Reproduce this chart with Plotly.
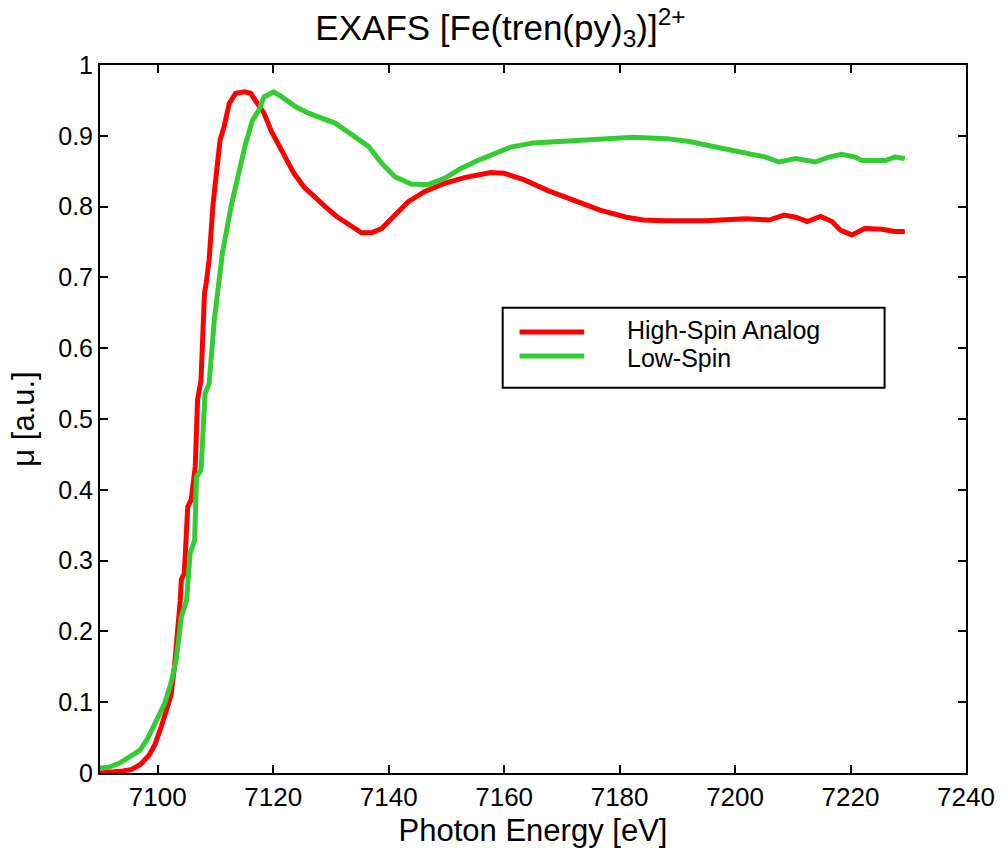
import plotly.graph_objects as go

hs_energy = [7090.0, 7092.0, 7094.0, 7095.5, 7097.0, 7098.5, 7099.5, 7100.6, 7101.5, 7102.3,
             7102.9, 7103.5, 7103.9, 7104.1, 7104.6, 7105.2, 7105.8, 7106.5, 7106.9, 7107.5,
             7108.1, 7108.4, 7108.9, 7109.6, 7110.8, 7111.5, 7112.4, 7113.5, 7115.0, 7116.1,
             7117.0, 7118.4, 7119.7, 7121.0, 7122.4, 7123.6, 7125.3, 7127.0, 7129.0, 7131.0,
             7133.6, 7135.3, 7137.0, 7138.8, 7141.1, 7143.4, 7146.2, 7149.7, 7153.1, 7157.7,
             7160.0, 7163.4, 7167.5, 7172.0, 7176.6, 7181.2, 7184.1, 7187.5, 7195.0, 7201.9,
             7205.9, 7208.5, 7210.5, 7212.5, 7214.8, 7216.8, 7218.2, 7220.2, 7222.5, 7225.4,
             7227.7, 7229.4]
hs_mu = [0.000, 0.001, 0.003, 0.005, 0.012, 0.025, 0.040, 0.065, 0.088, 0.110,
         0.150, 0.200, 0.244, 0.273, 0.282, 0.376, 0.386, 0.433, 0.527, 0.555,
         0.678, 0.692, 0.725, 0.805, 0.894, 0.913, 0.946, 0.960, 0.962, 0.960,
         0.948, 0.932, 0.906, 0.887, 0.866, 0.847, 0.828, 0.814, 0.800, 0.786,
         0.772, 0.763, 0.763, 0.769, 0.788, 0.807, 0.821, 0.833, 0.841, 0.848,
         0.847, 0.838, 0.823, 0.809, 0.795, 0.785, 0.781, 0.780, 0.780, 0.783,
         0.781, 0.788, 0.785, 0.779, 0.786, 0.779, 0.767, 0.760, 0.769, 0.768,
         0.765, 0.765]

ls_energy = [7090.0, 7091.5, 7093.4, 7095.0, 7096.9, 7098.2, 7099.2, 7100.2, 7101.2, 7102.3,
             7103.2, 7104.1, 7104.6, 7105.0, 7105.6, 7106.4, 7106.7, 7107.5, 7108.2, 7108.9,
             7109.8, 7110.5, 7111.2, 7112.7, 7113.2, 7114.1, 7115.1, 7116.4, 7117.5, 7118.4,
             7120.1, 7121.5, 7123.9, 7126.1, 7128.4, 7130.7, 7132.5, 7134.8, 7136.5, 7138.8,
             7141.1, 7143.9, 7146.8, 7149.7, 7152.5, 7155.4, 7158.3, 7161.1, 7165.1, 7170.9,
             7176.6, 7182.4, 7188.1, 7192.1, 7197.9, 7202.4, 7205.3, 7207.6, 7210.5, 7213.9,
             7216.2, 7218.5, 7220.8, 7222.0, 7226.0, 7227.7, 7229.4]
ls_mu = [0.007, 0.008, 0.014, 0.022, 0.032, 0.048, 0.065, 0.080, 0.098, 0.127,
         0.160, 0.221, 0.235, 0.244, 0.310, 0.329, 0.418, 0.428, 0.536, 0.550,
         0.640, 0.692, 0.734, 0.800, 0.819, 0.852, 0.885, 0.922, 0.936, 0.955,
         0.962, 0.955, 0.941, 0.932, 0.925, 0.918, 0.908, 0.894, 0.885, 0.861,
         0.842, 0.832, 0.831, 0.840, 0.854, 0.865, 0.875, 0.884, 0.890, 0.893,
         0.896, 0.898, 0.896, 0.892, 0.882, 0.875, 0.870, 0.863, 0.868, 0.863,
         0.870, 0.874, 0.870, 0.865, 0.865, 0.870, 0.868]

x_ticks = [7100, 7120, 7140, 7160, 7180, 7200, 7220, 7240]
y_ticks = [0, 0.1, 0.2, 0.3, 0.4, 0.5, 0.6, 0.7, 0.8, 0.9, 1]
series_names = ["High-Spin Analog", "Low-Spin"]
series_colors = ["#ff0000", "#33cc33"]

FONT = "Liberation Sans, Arial, Helvetica, sans-serif"

fig = go.Figure()
fig.add_trace(go.Scatter(x=hs_energy, y=hs_mu, mode="lines", name=series_names[0],
                         line=dict(color=series_colors[0], width=5), showlegend=False))
fig.add_trace(go.Scatter(x=ls_energy, y=ls_mu, mode="lines", name=series_names[1],
                         line=dict(color=series_colors[1], width=5), showlegend=False))

# Legend box drawn manually (paper coordinates)
fig.add_shape(type="rect", xref="paper", yref="paper", x0=0.465, x1=0.906, y0=0.544, y1=0.657,
              line=dict(color="black", width=2), fillcolor="white", layer="above")
leg_line_y = [0.623, 0.589]
leg_text_y = [0.626, 0.586]
for name, color, ly, ty in zip(series_names, series_colors, leg_line_y, leg_text_y):
    fig.add_shape(type="line", xref="paper", yref="paper", x0=0.4845, x1=0.559, y0=ly, y1=ly,
                  line=dict(color=color, width=5), layer="above")
    fig.add_annotation(xref="paper", yref="paper", x=0.606, y=ty, text=name, showarrow=False,
                       xanchor="left", yanchor="middle", font=dict(family=FONT, size=25, color="black"))

fig.update_layout(
    width=1007, height=856,
    margin=dict(l=100, r=36, t=65, b=83),
    paper_bgcolor="white", plot_bgcolor="white",
    font=dict(family=FONT, color="black"),
    title=dict(text="EXAFS [Fe(tren(py)<sub>3</sub>)]<sup>2+</sup>", x=0.497, xanchor="center",
               y=0.982, yanchor="top", font=dict(family=FONT, size=35, color="black")),
)
fig.update_xaxes(range=[7090, 7240], tickvals=x_ticks, ticktext=[str(v) for v in x_ticks],
                 ticks="inside", ticklen=8, tickwidth=2, tickcolor="black",
                 showline=True, linecolor="black", linewidth=2, mirror="allticks",
                 showgrid=False, zeroline=False,
                 tickfont=dict(family=FONT, size=26, color="black"),
                 title=dict(text="Photon Energy [eV]", font=dict(family=FONT, size=31, color="black"),
                            standoff=8))
fig.update_yaxes(range=[0, 1], tickvals=y_ticks, ticktext=[f"{v:g}" for v in y_ticks],
                 ticks="inside", ticklen=8, tickwidth=2, tickcolor="black",
                 showline=True, linecolor="black", linewidth=2, mirror="allticks",
                 showgrid=False, zeroline=False,
                 tickfont=dict(family=FONT, size=25, color="black"),
                 title=dict(text="μ [a.u.]", font=dict(family=FONT, size=31, color="black"),
                            standoff=14))

fig.write_html("out.html")
